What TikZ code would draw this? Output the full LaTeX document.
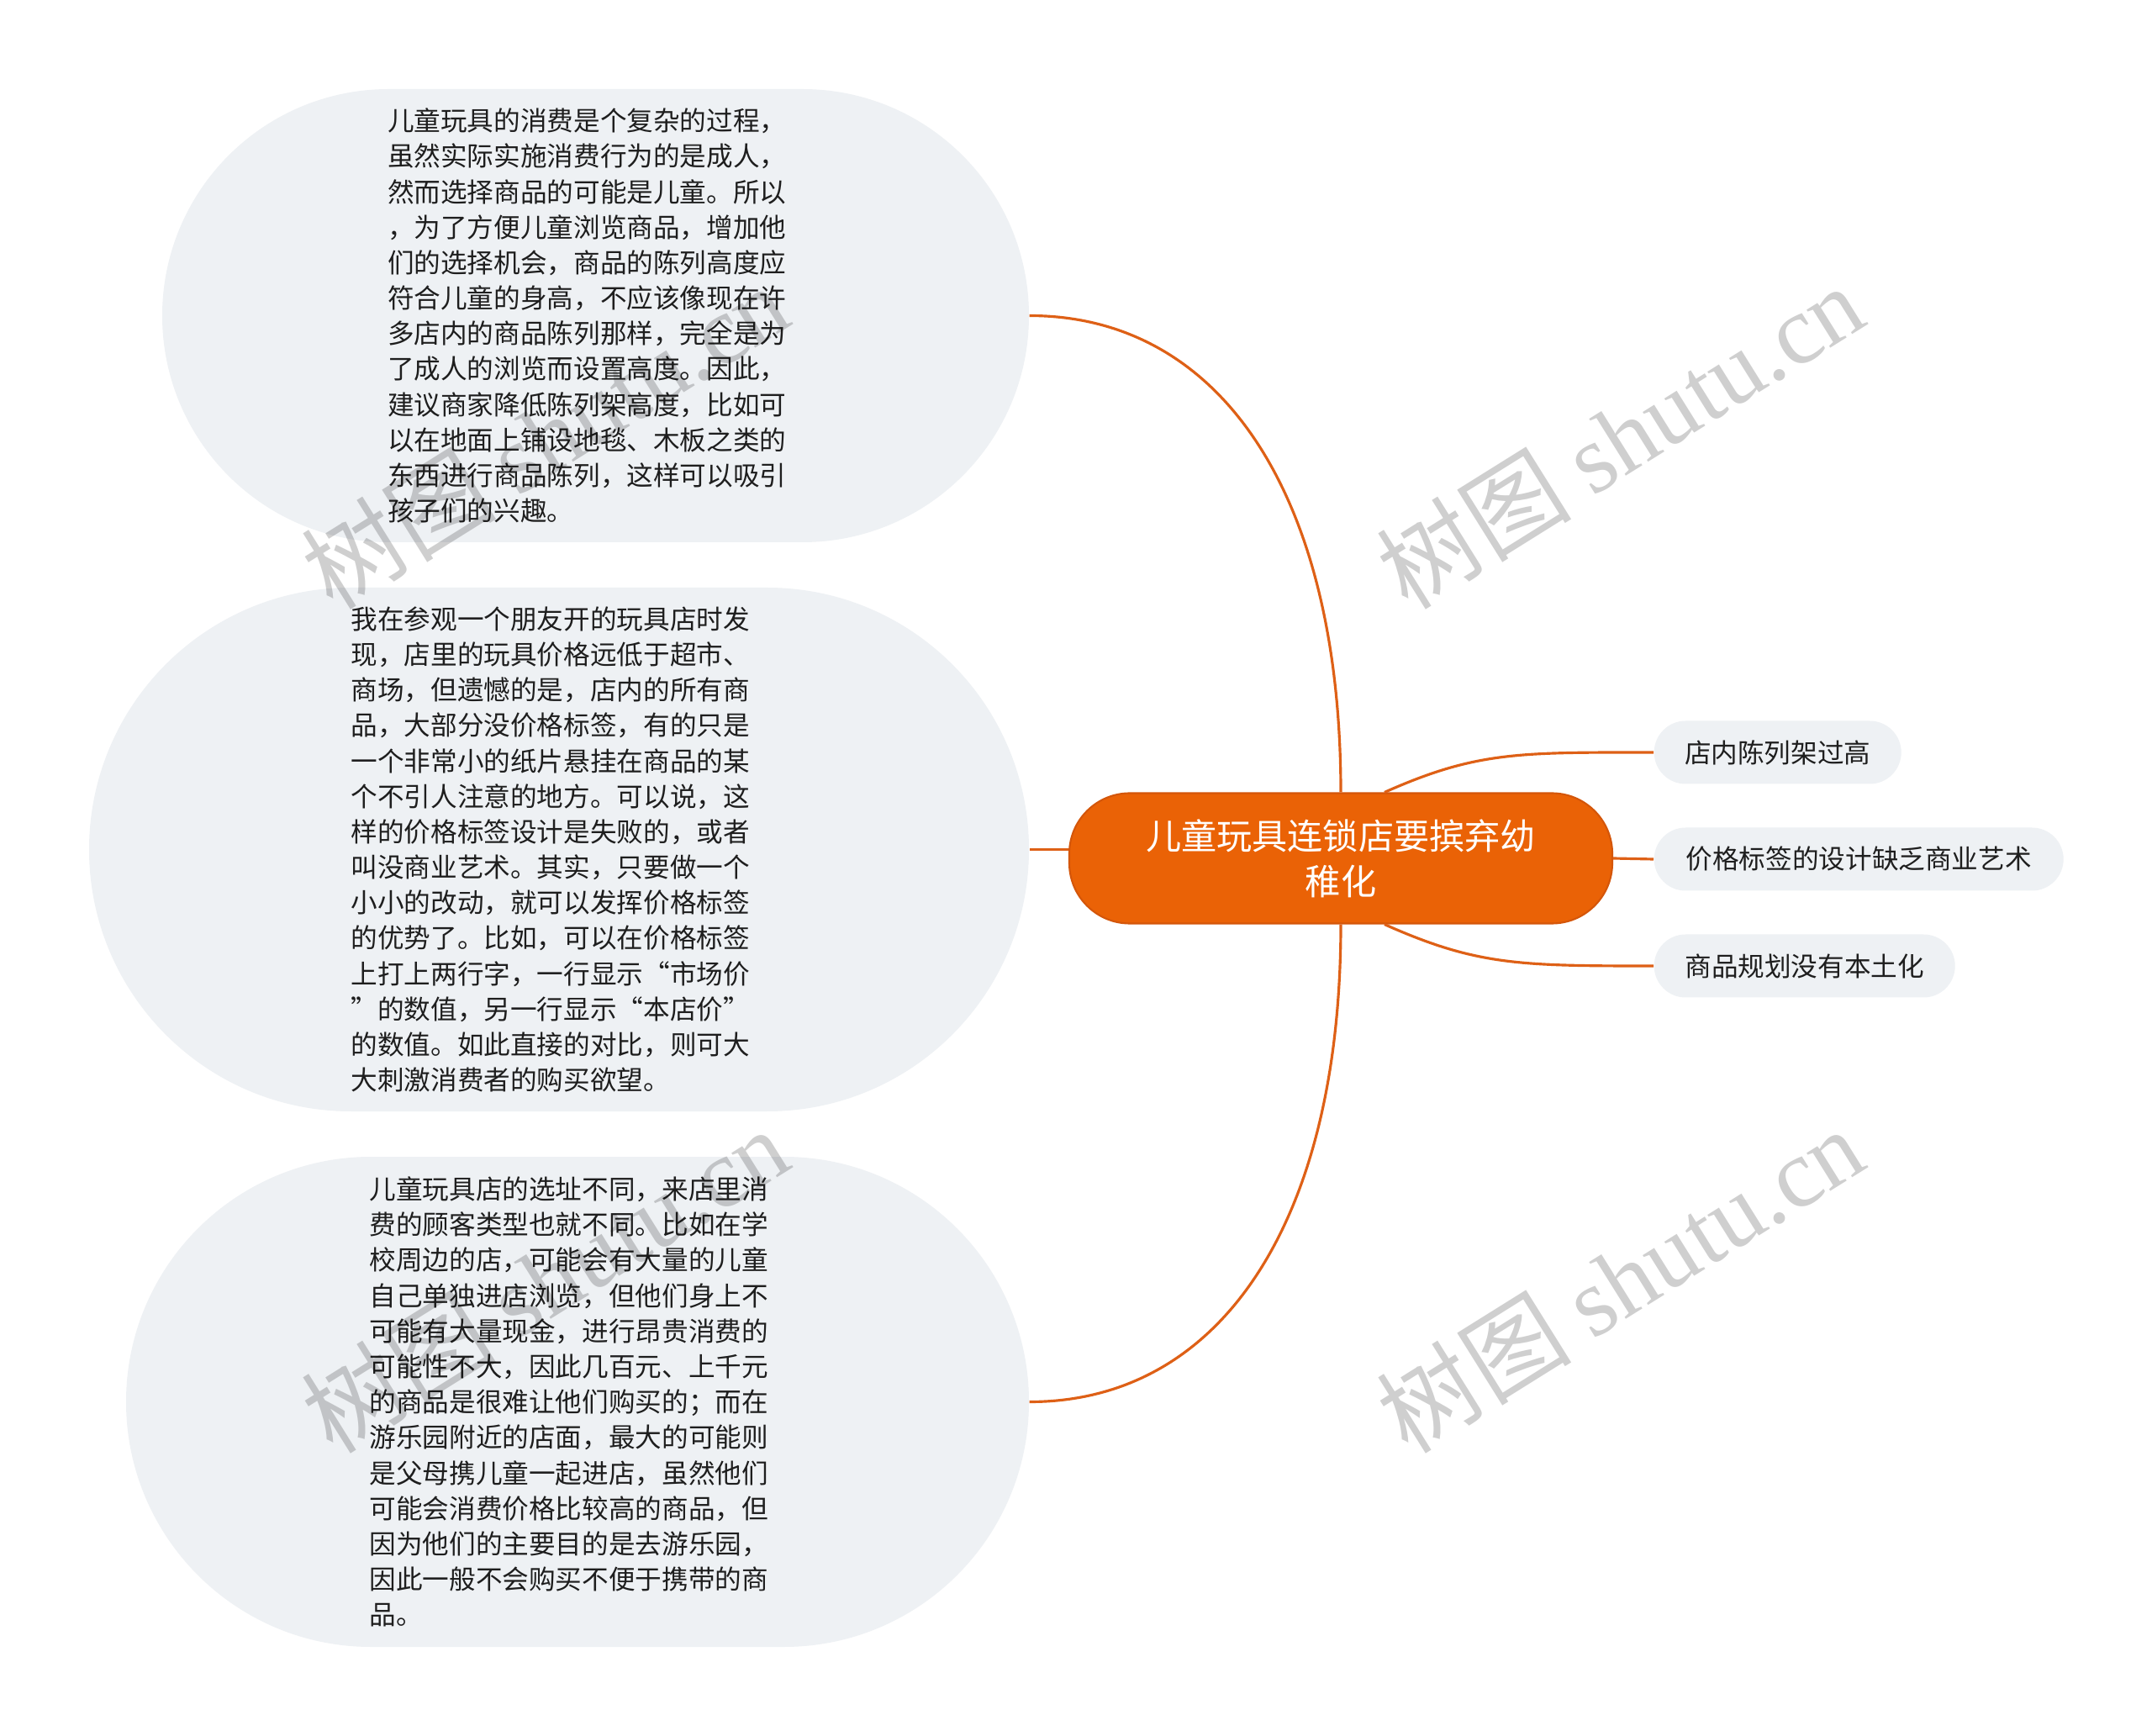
\documentclass[tikz,border=0pt]{standalone}
\usepackage{fontspec}
\setmainfont{Noto Sans CJK SC}
\newfontfamily\wmlatin{Liberation Serif}
\usetikzlibrary{shapes.misc}
\definecolor{rootorange}{RGB}{234,98,6}
\definecolor{rootborder}{RGB}{212,86,10}
\definecolor{edgeorange}{RGB}{222,96,22}
\definecolor{bubblegrey}{RGB}{238,241,244}
\definecolor{inkgrey}{RGB}{30,30,30}
\tikzset{central/.style={draw=rootborder, line width=0.6pt, fill=rootorange, rounded corners=0.72cm, minimum width=6.46cm, minimum height=1.55cm, align=center, text=white, font=\fontsize{12pt}{15.3pt}\selectfont}}
\tikzset{bubble/.style={rounded rectangle, fill=bubblegrey, inner xsep=0pt, inner ysep=0.15cm, text width=4.95cm, align=left, text=inkgrey, font=\fontsize{9pt}{12pt}\selectfont}}
\tikzset{tag/.style={rounded rectangle, fill=bubblegrey, inner xsep=0pt, minimum height=0.75cm, text=inkgrey, font=\fontsize{9pt}{12pt}\selectfont}}
\tikzset{edge/.style={color=edgeorange, line width=0.9pt}}
\tikzset{wmark/.style={rotate=32, text=black, opacity=0.19, font=\fontsize{33pt}{33pt}\selectfont}}

\begin{document}
\begin{tikzpicture}
    \useasboundingbox [fill=white] (0, 0) rectangle (25.6, -20.65);

    \node [central] (C) at (15.95, -10.21) { 儿童玩具连锁店要摈弃幼\\稚化 };

    \node [bubble, minimum width=10.31cm, minimum height=5.39cm] (L1) at (7.085, -3.755) {
        儿童玩具的消费是个复杂的过程，\\
        虽然实际实施消费行为的是成人，\\
        然而选择商品的可能是儿童。所以\\
        ，为了方便儿童浏览商品，增加他\\
        们的选择机会，商品的陈列高度应\\
        符合儿童的身高，不应该像现在许\\
        多店内的商品陈列那样，完全是为\\
        了成人的浏览而设置高度。因此，\\
        建议商家降低陈列架高度，比如可\\
        以在地面上铺设地毯、木板之类的\\
        东西进行商品陈列，这样可以吸引\\
        孩子们的兴趣。 };
    \node [bubble, minimum width=11.18cm, minimum height=6.23cm] (L2) at (6.65, -10.105) {
        我在参观一个朋友开的玩具店时发\\
        现，店里的玩具价格远低于超市、\\
        商场，但遗憾的是，店内的所有商\\
        品，大部分没价格标签，有的只是\\
        一个非常小的纸片悬挂在商品的某\\
        个不引人注意的地方。可以说，这\\
        样的价格标签设计是失败的，或者\\
        叫没商业艺术。其实，只要做一个\\
        小小的改动，就可以发挥价格标签\\
        的优势了。比如，可以在价格标签\\
        上打上两行字，一行显示“市场价\\
        ”的数值，另一行显示“本店价”\\
        的数值。如此直接的对比，则可大\\
        大刺激消费者的购买欲望。 };
    \node [bubble, minimum width=10.74cm, minimum height=5.83cm] (L3) at (6.87, -16.675) {
        儿童玩具店的选址不同，来店里消\\
        费的顾客类型也就不同。比如在学\\
        校周边的店，可能会有大量的儿童\\
        自己单独进店浏览，但他们身上不\\
        可能有大量现金，进行昂贵消费的\\
        可能性不大，因此几百元、上千元\\
        的商品是很难让他们购买的；而在\\
        游乐园附近的店面，最大的可能则\\
        是父母携儿童一起进店，虽然他们\\
        可能会消费价格比较高的商品，但\\
        因为他们的主要目的是去游乐园，\\
        因此一般不会购买不便于携带的商\\
        品。 };

    \node [tag, minimum width=2.94cm, anchor=west] (R1) at (19.67, -8.95) { 店内陈列架过高 };
    \node [tag, minimum width=4.87cm, anchor=west] (R2) at (19.67, -10.22) { 价格标签的设计缺乏商业艺术 };
    \node [tag, minimum width=3.58cm, anchor=west] (R3) at (19.67, -11.49) { 商品规划没有本土化 };

    \draw [edge] (C.north) .. controls +(0, 3.5) and +(2.3, 0) .. (L1.east);
    \draw [edge] (L2.east -| C.west) -- (L2.east);
    \draw [edge] (C.south) .. controls +(0, -3.5) and +(2.3, 0) .. (L3.east);

    \draw [edge] ([xshift=0.52cm]C.north) .. controls +(24:1.2) and +(-1.6, 0) .. (R1.west);
    \draw [edge] (C.east) -- (R2.west);
    \draw [edge] ([xshift=0.52cm]C.south) .. controls +(-24:1.2) and +(-1.6, 0) .. (R3.west);

    \node [wmark] (W1) at (6.48, -5.19) { 树图 {\wmlatin shutu.cn} };
    \node [wmark] (W2) at (19.27, -5.19) { 树图 {\wmlatin shutu.cn} };
    \node [wmark] (W3) at (6.48, -15.22) { 树图 {\wmlatin shutu.cn} };
    \node [wmark] (W4) at (19.27, -15.22) { 树图 {\wmlatin shutu.cn} };
\end{tikzpicture}
\end{document}
